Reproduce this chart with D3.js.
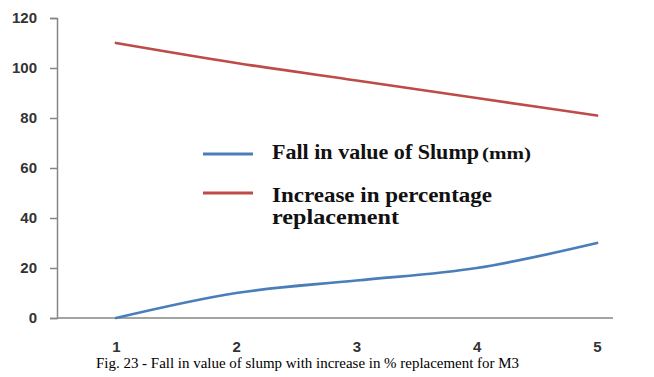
<!DOCTYPE html>
<html>
<head>
<meta charset="utf-8">
<script src="https://cdn.jsdelivr.net/npm/d3@7"></script>
<style>
  body { margin: 0; background: #fff; }
  svg { display: block; }
</style>
</head>
<body>
<div id="chart"></div>
<script>
// data
const categories = [1, 2, 3, 4, 5];
const slumpFall = [0, 10, 15, 20, 30];
const replacementIncrease = [110, 102, 95, 88, 81];
const yTicks = [0, 20, 40, 60, 80, 100, 120];

const width = 654, height = 377;
const axisLeftX = 57, axisRightX = 613;
const plotTop = 18, plotBottom = 318;

const svg = d3.select("#chart").append("svg")
    .attr("width", width)
    .attr("height", height);

const xScale = d3.scalePoint()
    .domain(categories)
    .range([116, 597]);

const yScale = d3.scaleLinear()
    .domain([0, 120])
    .range([plotBottom, plotTop]);

const sans = "'Liberation Sans', Arial, sans-serif";
const serif = "'Liberation Serif', 'Times New Roman', serif";

// y axis
const yAxisG = svg.append("g")
    .attr("transform", `translate(${axisLeftX},0)`)
    .call(d3.axisLeft(yScale).tickValues(yTicks).tickSize(7).tickPadding(13));
yAxisG.select(".domain").attr("stroke", "#868686").attr("stroke-width", 1.5);
yAxisG.selectAll(".tick line").attr("stroke", "#868686").attr("stroke-width", 1.5);
yAxisG.selectAll("text")
    .attr("fill", "#333")
    .style("font-family", sans)
    .style("font-size", "15px")
    .style("font-weight", "bold");

// x axis baseline
svg.append("line")
    .attr("x1", axisLeftX).attr("x2", axisRightX)
    .attr("y1", yScale(0)).attr("y2", yScale(0))
    .attr("stroke", "#868686")
    .attr("stroke-width", 1.5);

const xAxisG = svg.append("g")
    .attr("transform", `translate(0,${yScale(0)})`)
    .call(d3.axisBottom(xScale).tickSize(0).tickPadding(23));
xAxisG.select(".domain").remove();
xAxisG.selectAll("text")
    .attr("fill", "#333")
    .style("font-family", sans)
    .style("font-size", "15px")
    .style("font-weight", "bold");

// series
const series = [
    { name: "slump", values: slumpFall, color: "#4a7ebb" },
    { name: "replacement", values: replacementIncrease, color: "#be4b48" }
];

const line = d3.line()
    .x((d, i) => xScale(categories[i]))
    .y(d => yScale(d))
    .curve(d3.curveMonotoneX);

svg.append("g").selectAll("path")
    .data(series)
    .join("path")
    .attr("d", d => line(d.values))
    .attr("fill", "none")
    .attr("stroke", d => d.color)
    .attr("stroke-width", 2.75)
    .attr("stroke-linecap", "round");

// legend
const legend = svg.append("g").attr("class", "legend");

legend.append("line")
    .attr("x1", 203).attr("x2", 253)
    .attr("y1", 154).attr("y2", 154)
    .attr("stroke", "#4a7ebb").attr("stroke-width", 3);

legend.append("text")
    .attr("x", 272).attr("y", 159)
    .attr("fill", "#111")
    .attr("textLength", 207)
    .attr("lengthAdjust", "spacingAndGlyphs")
    .style("font-family", serif)
    .style("font-weight", "bold")
    .style("font-size", "21px")
    .text("Fall in value of Slump");

legend.append("text")
    .attr("x", 482).attr("y", 159)
    .attr("fill", "#111")
    .attr("textLength", 49)
    .attr("lengthAdjust", "spacingAndGlyphs")
    .style("font-family", serif)
    .style("font-weight", "bold")
    .style("font-size", "16px")
    .text("(mm)");

legend.append("line")
    .attr("x1", 203).attr("x2", 253)
    .attr("y1", 193).attr("y2", 193)
    .attr("stroke", "#be4b48").attr("stroke-width", 3);

legend.append("text")
    .attr("x", 272).attr("y", 202)
    .attr("fill", "#111")
    .attr("textLength", 220)
    .attr("lengthAdjust", "spacingAndGlyphs")
    .style("font-family", serif)
    .style("font-weight", "bold")
    .style("font-size", "21px")
    .text("Increase in percentage");

legend.append("text")
    .attr("x", 272).attr("y", 224)
    .attr("fill", "#111")
    .attr("textLength", 127)
    .attr("lengthAdjust", "spacingAndGlyphs")
    .style("font-family", serif)
    .style("font-weight", "bold")
    .style("font-size", "21px")
    .text("replacement");

// caption
svg.append("text")
    .attr("x", 96).attr("y", 368)
    .attr("fill", "#000")
    .attr("textLength", 423)
    .attr("lengthAdjust", "spacingAndGlyphs")
    .style("font-family", serif)
    .style("font-size", "15px")
    .text("Fig. 23 - Fall in value of slump with increase in % replacement for M3");
</script>
</body>
</html>
